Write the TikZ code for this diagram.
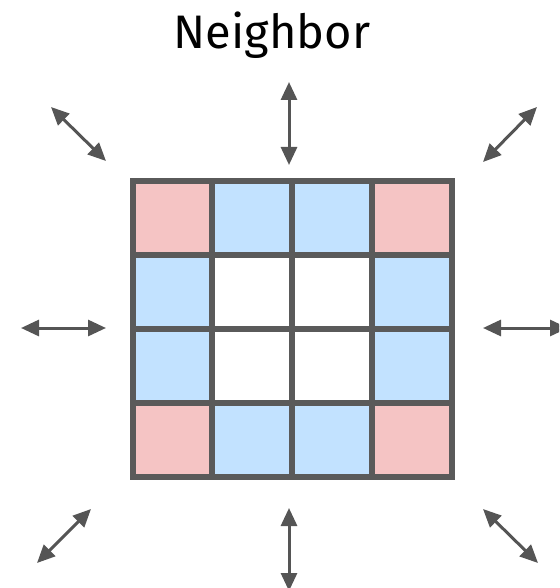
\documentclass[tikz,border=0pt]{standalone}
\usepackage{fontspec}
\setmainfont{Fira Sans}
\usetikzlibrary{arrows.meta}
\definecolor{gridgray}{HTML}{5A5A5A}
\definecolor{arrgray}{HTML}{555555}
\definecolor{edgepink}{HTML}{F5C4C4}
\definecolor{sideblue}{HTML}{C2E2FF}
\tikzset{%
    cell/.style={draw=gridgray,line width=6pt,minimum width=79.75pt,minimum height=74pt,inner sep=0pt},
    corner/.style={cell,fill=edgepink},
    side/.style={cell,fill=sideblue},
    inner/.style={cell,fill=white},
    nbr/.style={draw=arrgray,line width=3pt,{Triangle[length=18pt,width=16pt]}-{Triangle[length=18pt,width=16pt]}}
}

\begin{document}
\begin{tikzpicture}[x=1pt,y=-1pt]
        \useasboundingbox (0,0) rectangle (559,588);
        \clip (0,0) rectangle (559,588);
        \node[font=\fontsize{47}{52}\selectfont] (title) at (272,35){Neighbor};
        % 4x4 grid of cells
        \node[corner] (c11) at (172.5,218){};
        \node[side] (c12) at (252,218){};
        \node[side] (c13) at (332,218){};
        \node[corner] (c14) at (412,218){};
        \node[side] (c21) at (172.5,292){};
        \node[inner] (c22) at (252,292){};
        \node[inner] (c23) at (332,292){};
        \node[side] (c24) at (412,292){};
        \node[side] (c31) at (172.5,366){};
        \node[inner] (c32) at (252,366){};
        \node[inner] (c33) at (332,366){};
        \node[side] (c34) at (412,366){};
        \node[corner] (c41) at (172.5,440){};
        \node[side] (c42) at (252,440){};
        \node[side] (c43) at (332,440){};
        \node[corner] (c44) at (412,440){};
        % arrow ends round the grid
        \coordinate (nwa) at (51,107);
        \coordinate (nwb) at (106,161);
        \coordinate (na) at (289,82);
        \coordinate (nb) at (289,165);
        \coordinate (nea) at (537,107);
        \coordinate (neb) at (483,162);
        \coordinate (wa) at (21,328);
        \coordinate (wb) at (106,328);
        \coordinate (ea) at (483,328);
        \coordinate (eb) at (568,328);
        \coordinate (swa) at (37,563);
        \coordinate (swb) at (91,509);
        \coordinate (sa) at (289,508);
        \coordinate (sb) at (289,591);
        \coordinate (sea) at (483,509);
        \coordinate (seb) at (538,563);
        \draw[nbr] (nwa) -- (nwb);
        \draw[nbr] (na) -- (nb);
        \draw[nbr] (nea) -- (neb);
        \draw[nbr] (wa) -- (wb);
        \draw[nbr] (ea) -- (eb);
        \draw[nbr] (swa) -- (swb);
        \draw[nbr] (sa) -- (sb);
        \draw[nbr] (sea) -- (seb);
    \end{tikzpicture}
\end{document}
